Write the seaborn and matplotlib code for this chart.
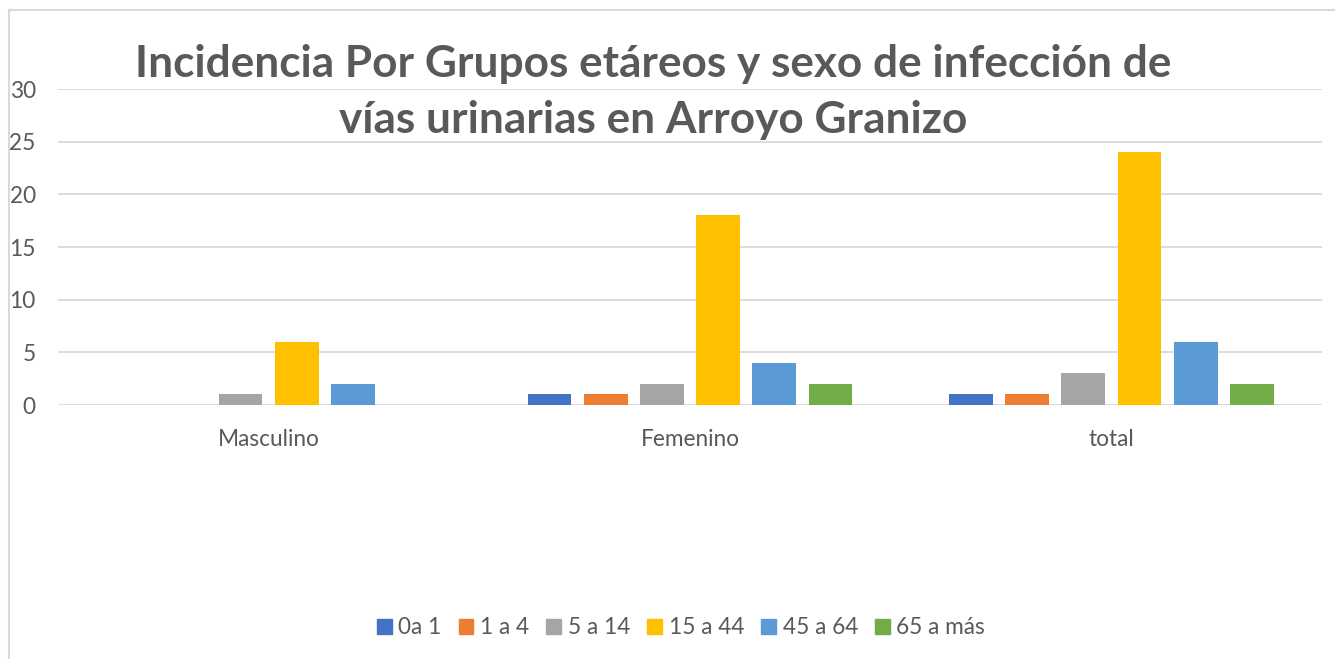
import matplotlib
matplotlib.use("Agg")
import matplotlib.pyplot as plt
import matplotlib.patches as mpatches
import pandas as pd
import seaborn as sns

# datos
sexos = ["Masculino", "Femenino", "total"]
grupos = ["0a 1", "1 a 4", "5 a 14", "15 a 44", "45 a 64", "65 a más"]
masculino = [0, 0, 1, 6, 2, 0]
femenino = [1, 1, 2, 18, 4, 2]
total = [1, 1, 3, 24, 6, 2]
colores = ["#4472C4", "#ED7D31", "#A5A5A5", "#FFC000", "#5B9BD5", "#70AD47"]

filas = []
for sexo, valores in zip(sexos, [masculino, femenino, total]):
    for g, v in zip(grupos, valores):
        filas.append({"sexo": sexo, "grupo": g, "casos": v})
df = pd.DataFrame(filas)

sns.set_style("white")
plt.rcParams["font.family"] = ["Lato", "DejaVu Sans"]
gris = "#595959"

fig = plt.figure(figsize=(13.35, 6.59), dpi=100)
ax = fig.add_axes([58 / 1335, 1 - 405 / 659, (1322 - 58) / 1335, (405 - 89) / 659])

sns.barplot(data=df, x="sexo", y="casos", hue="grupo", hue_order=grupos,
            palette=colores, saturation=1, width=0.8, gap=0.22, linewidth=0,
            ax=ax, legend=False, zorder=3)

ax.set_ylim(0, 30)
ax.set_xlim(-0.5, 2.5)
ax.set_yticks(range(0, 31, 5))
ax.yaxis.grid(True, color="#d9d9d9", linewidth=1.3, zorder=0)
ax.set_axisbelow(True)
for s in ax.spines.values():
    s.set_visible(False)
ax.set_xlabel("")
ax.set_ylabel("")
ax.tick_params(axis="both", length=0, labelsize=16.3, labelcolor=gris)
ax.tick_params(axis="y", pad=16)
ax.tick_params(axis="x", pad=17)

# titulo
fig.text(0.489, 1 - 77 / 659, "Incidencia Por Grupos etáreos y sexo de infección de",
         ha="center", va="baseline", fontsize=31.8, fontweight="bold", color=gris)
fig.text(0.489, 1 - 133 / 659, "vías urinarias en Arroyo Granizo",
         ha="center", va="baseline", fontsize=31.8, fontweight="bold", color=gris)

# leyenda
handles = [mpatches.Patch(color=c, label=g) for c, g in zip(colores, grupos)]
fig.legend(handles=handles, loc="center", bbox_to_anchor=(681 / 1335, 1 - 628 / 659),
           ncol=6, frameon=False, fontsize=16.3, labelcolor=gris,
           handlelength=0.65, handleheight=0.65, handletextpad=0.3, columnspacing=0.75)

# borde del grafico
fig.patches.append(mpatches.Rectangle((9 / 1335, -0.1), 1.2, 1 - 10 / 659 + 0.1,
                                      transform=fig.transFigure, fill=False,
                                      edgecolor="#d9d9d9", linewidth=1.5))

fig.savefig("out.png", dpi=100)
